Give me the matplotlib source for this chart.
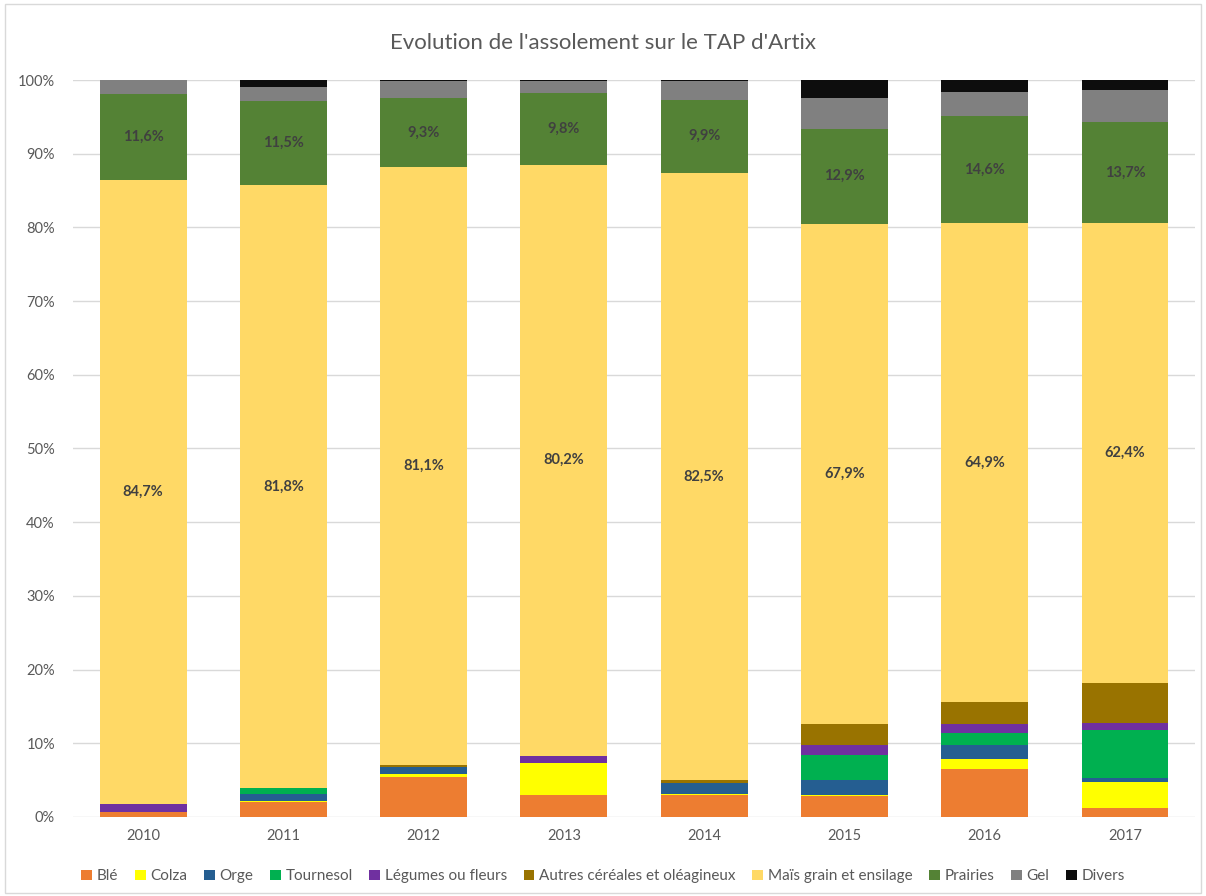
import numpy as np
import matplotlib.pyplot as plt
from matplotlib.patches import Rectangle
from matplotlib.ticker import PercentFormatter

plt.rcParams['font.family'] = ['Lato', 'DejaVu Sans']

# Years and crop shares (% of surface)
years = ["2010", "2011", "2012", "2013", "2014", "2015", "2016", "2017"]
ble = [0.7, 2.0, 5.4, 3.0, 3.0, 2.85, 6.5, 1.2]
colza = [0.0, 0.1, 0.45, 4.35, 0.1, 0.15, 1.3, 3.6]
orge = [0.0, 1.0, 0.9, 0.0, 1.45, 1.95, 1.95, 0.55]
tournesol = [0.0, 0.8, 0.0, 0.0, 0.0, 3.5, 1.7, 6.45]
legumes = [1.0, 0.0, 0.0, 0.95, 0.0, 1.35, 1.1, 1.0]
autres = [0.1, 0.0, 0.35, 0.0, 0.4, 2.8, 3.1, 5.4]
mais = [84.7, 81.8, 81.1, 80.2, 82.5, 67.9, 64.9, 62.4]
prairies = [11.6, 11.5, 9.3, 9.8, 9.9, 12.9, 14.6, 13.7]
gel = [1.9, 1.8, 2.4, 1.6, 2.55, 4.2, 3.2, 4.35]
divers = [0.0, 1.0, 0.1, 0.1, 0.1, 2.4, 1.65, 1.35]

series = [
    ("Blé", ble, "#ED7D31"),
    ("Colza", colza, "#FFFF00"),
    ("Orge", orge, "#255E91"),
    ("Tournesol", tournesol, "#00B050"),
    ("Légumes ou fleurs", legumes, "#7030A0"),
    ("Autres céréales et oléagineux", autres, "#997300"),
    ("Maïs grain et ensilage", mais, "#FFD966"),
    ("Prairies", prairies, "#548235"),
    ("Gel", gel, "#808080"),
    ("Divers", divers, "#0D0D0D"),
]
labelled = ["Maïs grain et ensilage", "Prairies"]

fig = plt.figure(figsize=(12.06, 8.96), dpi=100)
ax = fig.add_axes([0.0605, 0.0882, 0.9305, 0.8225])

# outer chart border
fig.patches.append(Rectangle((0.004, 0.003), 0.992, 0.992, transform=fig.transFigure,
                             fill=False, edgecolor="#d9d9d9", linewidth=1))

x = np.arange(len(years))
bottom = np.zeros(len(years))
for name, vals, col in series:
    vals = np.array(vals)
    ax.bar(x, vals, width=0.62, bottom=bottom, color=col, label=name, linewidth=0, zorder=3)
    if name in labelled:
        for xi, b, v in zip(x, bottom, vals):
            ax.text(xi, b + v / 2, f"{v:.1f}%".replace(".", ","), ha="center", va="center",
                    fontsize=10.5, fontweight="bold", color="#404040", zorder=4)
    bottom += vals

ax.set_xlim(-0.5, len(years) - 0.5)
ax.set_ylim(0, 100)
ax.set_yticks(np.arange(0, 101, 10))
ax.yaxis.set_major_formatter(PercentFormatter(decimals=0))
ax.set_xticks(x)
ax.set_xticklabels(years)
ax.tick_params(axis="both", length=0, labelsize=10.5, labelcolor="#595959")
ax.tick_params(axis="x", pad=9)
ax.tick_params(axis="y", pad=13)
ax.grid(axis="y", color="#d9d9d9", linewidth=1, zorder=0)
for s in ax.spines.values():
    s.set_visible(False)

fig.text(0.5, 0.952, "Evolution de l'assolement sur le TAP d'Artix", ha="center", va="center",
         fontsize=16, color="#595959")

fig.legend(loc="center", bbox_to_anchor=(0.5, 0.022), ncol=10, frameon=False, fontsize=11,
           handlelength=0.7, handleheight=0.7, handletextpad=0.3, columnspacing=1.1,
           labelcolor="#595959")

fig.savefig("out.png", dpi=100)
